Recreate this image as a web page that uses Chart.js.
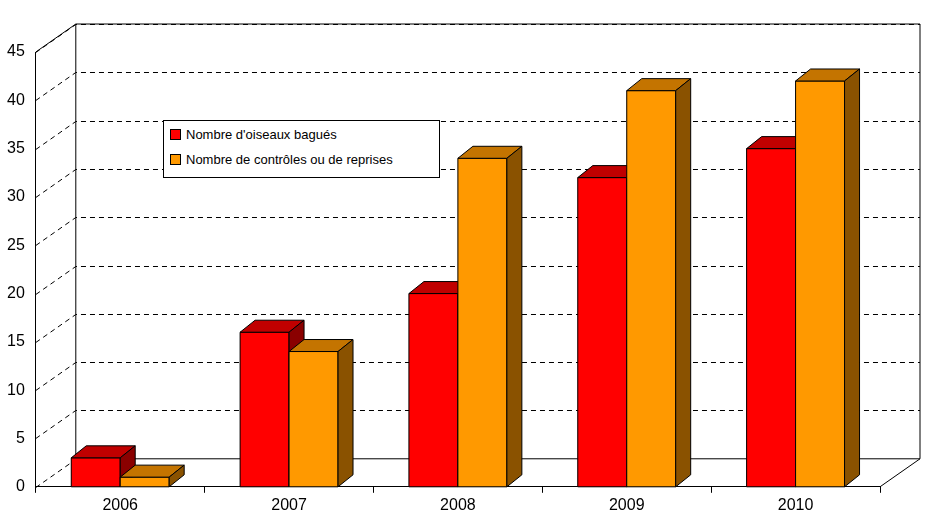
<!DOCTYPE html>
<html><head><meta charset="utf-8">
<script src="https://cdn.jsdelivr.net/npm/chart.js@4"></script>
<style>body{margin:0;background:#fff}#w{position:relative;width:941px;height:528px}
#lg{position:absolute;left:163px;top:120px;width:275px;height:56px;border:1px solid #000;background:#fff;font:13px "Liberation Sans",Arial,sans-serif;}
#lg div{position:absolute;left:6px;white-space:nowrap}#lg span{display:inline-block;width:9px;height:9px;border:1px solid #000;margin-right:5px;vertical-align:-1px}</style>
</head><body><div id="w"><canvas id="c" width="941" height="528"></canvas>
<div id="lg"><div style="top:6px"><span style="background:#f00"></span>Nombre d'oiseaux bagués</div><div style="top:31px"><span style="background:#f90"></span>Nombre de contrôles ou de reprises</div></div></div>
<script>
const years=['2006','2007','2008','2009','2010'];
const bagues=[3,16,20,32,35];
const controles=[1,14,34,41,42];
const DX=15,DY=12,WX=40,WY=28;
const cols=[['#ff0000','#c00000','#8a0000'],['#ff9900','#c47400','#8a5200']];
const plug={id:'p3d',
beforeDatasetsDraw(ch){const c=ch.ctx,y=ch.scales.y,a=ch.chartArea;c.save();c.lineWidth=1;
 y.ticks.forEach(t=>{const py=Math.round(y.getPixelForValue(t.value))+.5;
  c.strokeStyle='#000';c.setLineDash([5,4]);c.beginPath();c.moveTo(a.left,py);c.lineTo(a.left+WX,py-WY);
  if(t.value>0){c.lineTo(a.right+WX,py-WY);}c.stroke();});
 c.setLineDash([]);c.beginPath();const b=y.getPixelForValue(0),tp=y.getPixelForValue(45);
 c.moveTo(a.left+WX,b-WY);c.lineTo(a.left+WX,tp-WY);c.lineTo(a.right+WX,tp-WY);c.lineTo(a.right+WX,b-WY);c.lineTo(a.left+WX,b-WY);
 c.moveTo(a.right,b);c.lineTo(a.right+WX,b-WY);c.moveTo(a.left,tp);c.lineTo(a.left+WX,tp-WY);c.stroke();c.restore();},
afterDatasetsDraw(ch){const c=ch.ctx;c.save();c.lineWidth=1;c.strokeStyle='#000';
 for(let i=0;i<years.length;i++)for(let d=0;d<2;d++){const e=ch.getDatasetMeta(d).data[i];
  const l=e.x-e.width/2,r=e.x+e.width/2,t=e.y,bs=e.base;const cl=cols[d];
  const poly=(pts,f)=>{c.fillStyle=f;c.beginPath();pts.forEach((p,k)=>k?c.lineTo(p[0],p[1]):c.moveTo(p[0],p[1]));c.closePath();c.fill();c.stroke();};
  poly([[l,t],[r,t],[r,bs],[l,bs]],cl[0]);
  poly([[l,t],[r,t],[r+DX,t-DY],[l+DX,t-DY]],cl[1]);
  poly([[r,t],[r+DX,t-DY],[r+DX,bs-DY],[r,bs]],cl[2]);}
 c.restore();}};
new Chart(document.getElementById('c'),{type:'bar',
data:{labels:years,datasets:[{label:"Nombre d'oiseaux bagués",data:bagues,backgroundColor:'#f00'},{label:'Nombre de contrôles ou de reprises',data:controles,backgroundColor:'#f90'}]},
options:{responsive:false,animation:false,events:[],layout:{padding:{top:52,right:61,left:4,bottom:10}},
 datasets:{bar:{categoryPercentage:0.58,barPercentage:1}},
 plugins:{legend:{display:false},tooltip:{enabled:false}},
 scales:{y:{min:0,max:45,ticks:{stepSize:5,color:'#000',font:{family:'Liberation Sans',size:16}},grid:{display:false},border:{color:'#000'}},
  x:{ticks:{color:'#000',font:{family:'Liberation Sans',size:16}},grid:{display:true,color:'#000',drawOnChartArea:false,tickLength:6},border:{color:'#000'}}}},
plugins:[plug]});
</script></body></html>
